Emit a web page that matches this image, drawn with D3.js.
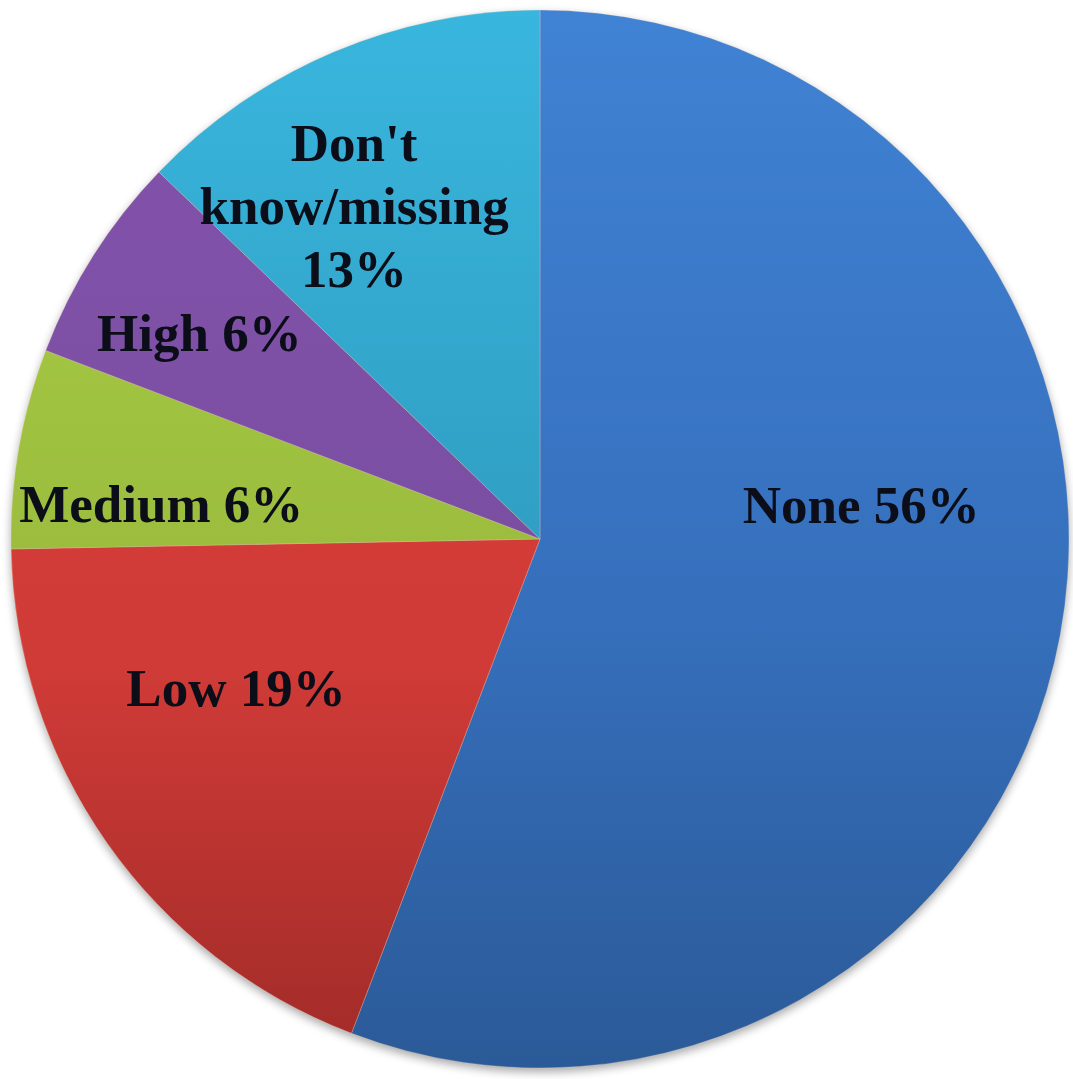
<!DOCTYPE html>
<html>
<head>
<meta charset="utf-8">
<script src="https://cdn.jsdelivr.net/npm/d3@7"></script>
<style>
    html, body { margin: 0; padding: 0; background: #fff; }
    #chart svg { display: block; }
</style>
</head>
<body>
<div id="chart"></div>
<script>
// slice order is clockwise from 12 o'clock, as in the original
const categories = ['None', 'Low', 'Medium', 'High', "Don't know/missing"];
const shares = [55.8, 18.9, 6.1, 6.4, 12.8];
const pctLabels = ['56%', '19%', '6%', '6%', '13%'];
const labelLines = [
    ['None 56%'],
    ['Low 19%'],
    ['Medium 6%'],
    ['High 6%'],
    ["Don't", 'know/missing', '13%']
];

const width = 1073,
    height = 1079;

const cx = 540,
    cy = 539,
    radius = 529;

// vertical shading stops (offset over the whole disc, colour)
const sliceColors = [
    [[0, '#4082d4'], [0.55, '#3670bd'], [1, '#2b5a98']],
    [[0, '#dc403b'], [0.62, '#d03b37'], [1, '#a02b28']],
    [[0, '#aad047'], [0.5, '#9cbd3e'], [1, '#7f9934']],
    [[0, '#8452ad'], [0.5, '#7a4fa2'], [1, '#654489']],
    [[0, '#39b6de'], [0.5, '#309fc3'], [1, '#2c8fad']]
];

// label nudges from the centroid of a 0.7r arc
const labelNudge = [[-43, -101], [-1, -64], [-14, 29], [-28, -8], [-41, 8]];

let svg, g;

function drawChart() {
    svg = d3.select('#chart').append('svg')
        .attr('width', width)
        .attr('height', height);

    svg.append('rect')
        .attr('width', '100%')
        .attr('height', '100%')
        .attr('fill', '#fff');

    const defs = svg.append('defs');

    const shadow = defs.append('filter')
        .attr('id', 'shadow')
        .attr('x', '-10%').attr('y', '-10%')
        .attr('width', '120%').attr('height', '120%');
    shadow.append('feGaussianBlur').attr('in', 'SourceAlpha').attr('stdDeviation', 5);
    shadow.append('feOffset').attr('dy', 4).attr('result', 'blur');
    shadow.append('feComponentTransfer').append('feFuncA').attr('type', 'linear').attr('slope', 0.35);

    sliceColors.forEach((stops, i) => {
        const grad = defs.append('linearGradient')
            .attr('id', 'grad' + i)
            .attr('gradientUnits', 'userSpaceOnUse')
            .attr('x1', 0).attr('x2', 0)
            .attr('y1', -radius).attr('y2', radius);
        stops.forEach(s => {
            grad.append('stop').attr('offset', s[0]).attr('stop-color', s[1]);
        });
    });

    const pie = d3.pie().sort(null).value(d => d);
    const arcs = pie(shares);

    const arc = d3.arc().innerRadius(0).outerRadius(radius);
    const labelArc = d3.arc().innerRadius(radius * 0.7).outerRadius(radius * 0.7);

    g = svg.append('g').attr('transform', 'translate(' + cx + ',' + cy + ')');

    // soft shadow under the disc
    g.append('circle')
        .attr('r', radius)
        .attr('fill', '#000')
        .attr('filter', 'url(#shadow)');

    g.selectAll('path.slice')
        .data(arcs)
        .enter()
        .append('path')
        .attr('class', 'slice')
        .attr('d', arc)
        .attr('fill', (d, i) => 'url(#grad' + i + ')')
        .attr('stroke', 'rgba(255,225,190,0.25)')
        .attr('stroke-width', 1);

    const labels = g.selectAll('text.label')
        .data(arcs)
        .enter()
        .append('text')
        .attr('class', 'label')
        .attr('text-anchor', 'middle')
        .attr('font-family', '"Liberation Serif", "DejaVu Serif", serif')
        .attr('font-weight', 'bold')
        .attr('font-size', 53)
        .attr('fill', '#0b0d18')
        .attr('transform', function(d, i) {
            const c = labelArc.centroid(d);
            return 'translate(' + (c[0] + labelNudge[i][0]) + ',' + (c[1] + labelNudge[i][1]) + ')';
        });

    labels.each(function(d, i) {
        const lines = labelLines[i];
        const t = d3.select(this);
        lines.forEach((line, j) => {
            t.append('tspan')
                .attr('x', 0)
                .attr('y', (j - (lines.length - 1) / 2) * 63 + 18)
                .text(line);
        });
    });
}

drawChart();
</script>
</body>
</html>
